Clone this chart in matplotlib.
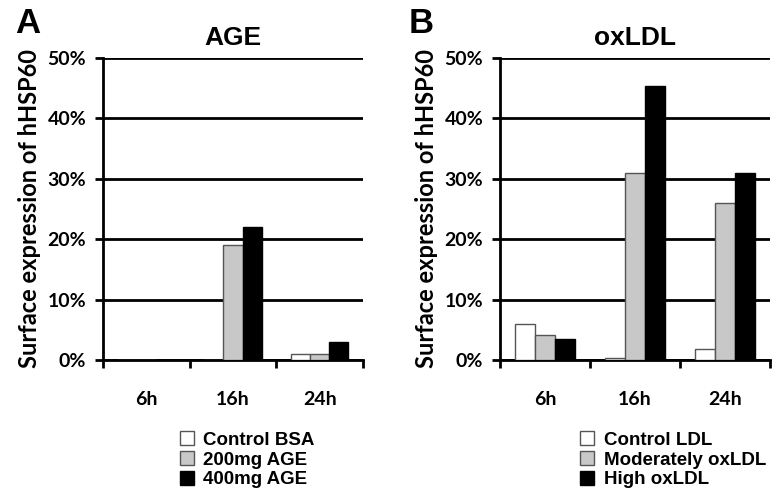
import matplotlib
matplotlib.use("Agg")
import matplotlib.pyplot as plt
import numpy as np

plt.rcParams['font.family'] = ['Liberation Sans', 'DejaVu Sans']
plt.rcParams['font.weight'] = 'bold'
TICKFONT = ['Lato', 'DejaVu Sans']

categories = ["6h", "16h", "24h"]
yticks = [0, 10, 20, 30, 40, 50]

age_series = ["Control BSA", "200mg AGE", "400mg AGE"]
age_control = [0, 0, 1.0]
age_200 = [0, 19.0, 1.0]
age_400 = [0, 22.0, 2.9]

ox_series = ["Control LDL", "Moderately oxLDL", "High oxLDL"]
ox_control = [5.9, 0.4, 1.9]
ox_mod = [4.1, 31.0, 26.0]
ox_high = [3.4, 45.4, 31.0]

colors = ["white", "#c8c8c8", "black"]
edges = ["#555555", "#555555", "black"]

fig = plt.figure(figsize=(7.76, 4.93), dpi=100)
axA = fig.add_axes([0.1327, 0.2698, 0.3351, 0.6126])
axB = fig.add_axes([0.6443, 0.2698, 0.348, 0.6126])

def draw(ax, series_vals, names, title, leg_x):
    x = np.arange(len(categories))
    w = 0.22
    handles = []
    for i, vals in enumerate(series_vals):
        h = ax.bar(x + (i - 1) * w, vals, w, color=colors[i], edgecolor=edges[i],
                   linewidth=1.0, zorder=3, label=names[i])
        handles.append(h)
    ax.set_xlim(-0.5, 2.5)
    ax.set_ylim(0, 50)
    ax.set_yticks(yticks)
    ax.set_yticklabels([f"{v}%" for v in yticks], fontsize=14, fontweight='bold', family=TICKFONT)
    ax.yaxis.grid(True, color='black', linewidth=2, zorder=1)
    ax.set_axisbelow(True)
    ax.set_xticks(x)
    ax.set_xticklabels(categories, fontsize=14, fontweight='bold', family=TICKFONT)
    ax.tick_params(axis='x', length=0, pad=22)
    ax.set_xticks([-0.5, 0.5, 1.5, 2.5], minor=True)
    ax.tick_params(axis='x', which='minor', length=6, width=2, direction='out')
    ax.tick_params(axis='y', length=6, width=2, direction='out', pad=6)
    for s in ['top', 'right']:
        ax.spines[s].set_visible(False)
    ax.spines['left'].set_linewidth(2)
    ax.spines['bottom'].set_linewidth(2)
    ax.set_title(title, fontsize=19, fontweight='bold', pad=9)
    ax.set_ylabel("Surface expression of hHSP60", fontsize=17, fontweight='bold',
                  family=TICKFONT, labelpad=5)
    leg = fig.legend(handles=handles, loc='upper left', bbox_to_anchor=(leg_x, 0.14),
                     frameon=False, fontsize=13.5, handlelength=0.75, handleheight=0.75,
                     handletextpad=0.5, labelspacing=0.12, borderaxespad=0)
    return leg

draw(axA, [age_control, age_200, age_400], age_series, "AGE", 0.222)
draw(axB, [ox_control, ox_mod, ox_high], ox_series, "oxLDL", 0.738)

fig.text(0.019, 0.985, "A", fontsize=25, fontweight='bold', va='top')
fig.text(0.527, 0.985, "B", fontsize=25, fontweight='bold', va='top')

fig.savefig("out.png", dpi=100)
